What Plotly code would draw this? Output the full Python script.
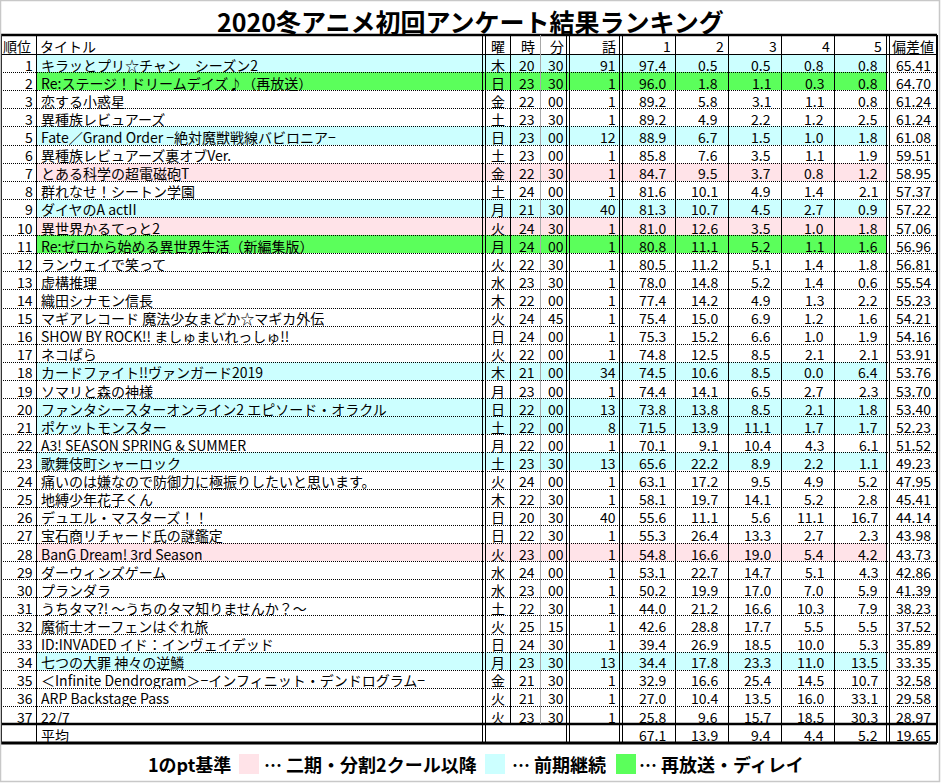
import plotly.graph_objects as go

# ---- data ----
ranks = [1, 2, 3, 3, 5, 6, 7, 8, 9, 10, 11, 12, 13, 14, 15, 16, 17, 18, 19, 20,
         21, 22, 23, 24, 25, 26, 27, 28, 29, 30, 31, 32, 33, 34, 35, 36, 37]
titles = [
    "キラッとプリ☆チャン　シーズン2",
    "Re:ステージ！ドリームデイズ♪（再放送）",
    "恋する小惑星",
    "異種族レビュアーズ",
    "Fate／Grand Order −絶対魔獣戦線バビロニア−",
    "異種族レビュアーズ裏オブVer.",
    "とある科学の超電磁砲T",
    "群れなせ！シートン学園",
    "ダイヤのA actII",
    "異世界かるてっと2",
    "Re:ゼロから始める異世界生活（新編集版）",
    "ランウェイで笑って",
    "虚構推理",
    "織田シナモン信長",
    "マギアレコード 魔法少女まどか☆マギカ外伝",
    "SHOW BY ROCK!! ましゅまいれっしゅ!!",
    "ネコぱら",
    "カードファイト!!ヴァンガード2019",
    "ソマリと森の神様",
    "ファンタシースターオンライン2 エピソード・オラクル",
    "ポケットモンスター",
    "A3! SEASON SPRING & SUMMER",
    "歌舞伎町シャーロック",
    "痛いのは嫌なので防御力に極振りしたいと思います。",
    "地縛少年花子くん",
    "デュエル・マスターズ！！",
    "宝石商リチャード氏の謎鑑定",
    "BanG Dream! 3rd Season",
    "ダーウィンズゲーム",
    "プランダラ",
    "うちタマ?! 〜うちのタマ知りませんか？〜",
    "魔術士オーフェンはぐれ旅",
    "ID:INVADED イド：インヴェイデッド",
    "七つの大罪 神々の逆鱗",
    "＜Infinite Dendrogram＞−インフィニット・デンドログラム−",
    "ARP Backstage Pass",
    "22/7",
]
days = ["木", "日", "金", "土", "日", "土", "金", "土", "月", "火", "月", "火", "水", "木",
        "火", "日", "火", "木", "月", "日", "土", "月", "土", "火", "木", "日", "日", "火",
        "水", "水", "土", "火", "日", "月", "金", "火", "火"]
hours = [20, 23, 22, 23, 23, 23, 22, 24, 21, 24, 24, 22, 23, 22, 24, 24, 22, 21, 23,
         22, 22, 22, 23, 24, 22, 20, 22, 23, 24, 23, 22, 25, 24, 23, 21, 21, 23]
minutes = ["30", "30", "00", "30", "00", "00", "30", "00", "30", "30", "00", "30", "30",
           "00", "45", "00", "00", "00", "00", "00", "00", "00", "30", "00", "30", "30",
           "30", "00", "00", "00", "30", "15", "30", "30", "30", "30", "30"]
episodes = [91, 1, 1, 1, 12, 1, 1, 1, 40, 1, 1, 1, 1, 1, 1, 1, 1, 34, 1, 13, 8, 1, 13,
            1, 1, 40, 1, 1, 1, 1, 1, 1, 1, 13, 1, 1, 1]
pt1 = [97.4, 96.0, 89.2, 89.2, 88.9, 85.8, 84.7, 81.6, 81.3, 81.0, 80.8, 80.5, 78.0,
       77.4, 75.4, 75.3, 74.8, 74.5, 74.4, 73.8, 71.5, 70.1, 65.6, 63.1, 58.1, 55.6,
       55.3, 54.8, 53.1, 50.2, 44.0, 42.6, 39.4, 34.4, 32.9, 27.0, 25.8]
pt2 = [0.5, 1.8, 5.8, 4.9, 6.7, 7.6, 9.5, 10.1, 10.7, 12.6, 11.1, 11.2, 14.8, 14.2,
       15.0, 15.2, 12.5, 10.6, 14.1, 13.8, 13.9, 9.1, 22.2, 17.2, 19.7, 11.1, 26.4,
       16.6, 22.7, 19.9, 21.2, 28.8, 26.9, 17.8, 16.6, 10.4, 9.6]
pt3 = [0.5, 1.1, 3.1, 2.2, 1.5, 3.5, 3.7, 4.9, 4.5, 3.5, 5.2, 5.1, 5.2, 4.9, 6.9, 6.6,
       8.5, 8.5, 6.5, 8.5, 11.1, 10.4, 8.9, 9.5, 14.1, 5.6, 13.3, 19.0, 14.7, 17.0,
       16.6, 17.7, 18.5, 23.3, 25.4, 13.5, 15.7]
pt4 = [0.8, 0.3, 1.1, 1.2, 1.0, 1.1, 0.8, 1.4, 2.7, 1.0, 1.1, 1.4, 1.4, 1.3, 1.2, 1.0,
       2.1, 0.0, 2.7, 2.1, 1.7, 4.3, 2.2, 4.9, 5.2, 11.1, 2.7, 5.4, 5.1, 7.0, 10.3,
       5.5, 10.0, 11.0, 14.5, 16.0, 18.5]
pt5 = [0.8, 0.8, 0.8, 2.5, 1.8, 1.9, 1.2, 2.1, 0.9, 1.8, 1.6, 1.8, 0.6, 2.2, 1.6, 1.9,
       2.1, 6.4, 2.3, 1.8, 1.7, 6.1, 1.1, 5.2, 2.8, 16.7, 2.3, 4.2, 4.3, 5.9, 7.9,
       5.5, 5.3, 13.5, 10.7, 33.1, 30.3]
deviation = [65.41, 64.70, 61.24, 61.24, 61.08, 59.51, 58.95, 57.37, 57.22, 57.06,
             56.96, 56.81, 55.54, 55.23, 54.21, 54.16, 53.91, 53.76, 53.70, 53.40,
             52.23, 51.52, 49.23, 47.95, 45.41, 44.14, 43.98, 43.73, 42.86, 41.39,
             38.23, 37.52, 35.89, 33.35, 32.58, 29.58, 28.97]
# 0: none, 1: 二期・分割2クール以降, 2: 前期継続, 3: 再放送・ディレイ
category = [2, 3, 0, 0, 2, 0, 1, 0, 2, 1, 3, 0, 0, 0, 0, 0, 0, 2, 0, 2, 2, 0, 2, 0,
            0, 0, 0, 1, 0, 0, 0, 0, 0, 2, 0, 0, 0]
avg_pts = [67.1, 13.9, 9.4, 4.4, 5.2]
avg_dev = 19.65

headers = ["順位", "タイトル", "曜", "時", "分", "話", "1", "2", "3", "4", "5", "偏差値"]
legend_labels = ["… 二期・分割2クール以降", "… 前期継続", "… 再放送・ディレイ"]
cat_colors = ["#FFFFFF", "#FFE3E8", "#CCFFFF", "#5BFF5B"]

# ---- geometry ----
W, H = 941, 783
FONT = "Noto Sans CJK JP"
x_left, x_rank, x_title, x_day, x_hour, x_min = 1, 36.5, 482.5, 510.5, 540.5, 566.5
x_ep, x_c = 619.5, [675.5, 728.5, 781.5, 834.5, 886.5]
x_right = 937
y_top, y_head = 35, 54
row_h = 18.11
row_edges = [y_head + i * row_h for i in range(len(ranks) + 1)]
y_avg_bot = 743

fig = go.Figure()

# row background colours
fig.add_trace(go.Heatmap(
    x=[x_rank, x_c[-1]], y=row_edges, z=[[c] for c in category],
    zmin=0, zmax=3, showscale=False, hoverinfo="skip",
    colorscale=[[0, cat_colors[0]], [1/6, cat_colors[0]], [1/6, cat_colors[1]], [0.5, cat_colors[1]],
                [0.5, cat_colors[2]], [5/6, cat_colors[2]], [5/6, cat_colors[3]], [1, cat_colors[3]]],
))

shapes = []


def hline(y, w=1, dash="solid", color="black"):
    shapes.append(dict(type="line", x0=x_left, x1=x_right, y0=y, y1=y,
                       line=dict(color=color, width=w, dash=dash)))


def vline(x, y0=y_top, y1=y_avg_bot, w=1, color="black"):
    shapes.append(dict(type="line", x0=x, x1=x, y0=y0, y1=y1,
                       line=dict(color=color, width=w)))


# horizontal rules
for y in row_edges[1:-1]:
    hline(round(y) + 0.5, 1, "1px,1px")
hline(y_head + 0.5, 1)
hline(y_top, 2.5)
hline(round(row_edges[-1]), 2.5)
hline(y_avg_bot, 3)

# vertical rules
vline(x_left, w=2)
vline(x_right, w=2)
vline(x_rank)
for x in [x_title, x_min, x_ep, x_c[-1]]:
    vline(x)
    vline(x + 3)
vline(x_day, y1=round(row_edges[-1]))
vline(x_hour, y1=round(row_edges[-1]), color="#A8A8A8")
for x in x_c[:-1]:
    vline(x)

# outer frame of the picture
shapes.append(dict(type="rect", x0=0.5, x1=W - 1.5, y0=0.5, y1=H - 1.5,
                   line=dict(color="#C8C8C8", width=1.5)))

annotations = []


def txt(x, y, s, anchor="right", size=14, bold=False, box=16):
    annotations.append(dict(
        x=x, y=y, text=f"<b>{s}</b>" if bold else str(s), showarrow=False,
        xanchor=anchor, yanchor="middle", borderpad=0, height=box,
        font=dict(family=FONT, size=size, color="black")))


# title
txt(W / 2, 21, "2020冬アニメ初回アンケート結果ランキング", "center", 25, True, box=30)

# header row
yh = (y_top + y_head) / 2 + 1
txt(2, yh, headers[0], "left")
txt(39, yh, headers[1], "left")
txt(498, yh, headers[2], "center")
txt(535.5, yh, headers[3])
txt(565, yh, headers[4])
txt(617, yh, headers[5])
for x, h in zip(x_c, headers[6:11]):
    txt(x - 4, yh, h)
txt(913, yh, headers[11], "center")

# body
pt_right = [667, 719, 772, 824.5, 878.5]
for i in range(len(ranks)):
    yc = (row_edges[i] + row_edges[i + 1]) / 2 + 1.5
    txt(34, yc, ranks[i])
    txt(40, yc, titles[i], "left")
    txt(498, yc, days[i], "center")
    txt(535.5, yc, hours[i])
    txt(565, yc, minutes[i])
    txt(617, yc, episodes[i])
    for x, col in zip(pt_right, [pt1, pt2, pt3, pt4, pt5]):
        txt(x, yc, f"{col[i]:.1f}")
    txt(932, yc, f"{deviation[i]:.2f}")

# average row
ya = (row_edges[-1] + y_avg_bot) / 2 + 1.5
txt(40, ya, "平均", "left")
for x, v in zip(pt_right, avg_pts):
    txt(x, ya, f"{v:.1f}")
txt(932, ya, f"{avg_dev:.2f}")

# legend
yl = 764
txt(147, yl, "1のpt基準", "left", 18, True, box=22)
leg_box_x = [239, 485, 616]
leg_text_x = [263, 511, 638]
for bx, tx, lab, col in zip(leg_box_x, leg_text_x, legend_labels, cat_colors[1:]):
    shapes.append(dict(type="rect", x0=bx, x1=bx + 20, y0=754, y1=774,
                       fillcolor=col, line=dict(width=0)))
    txt(tx, yl, lab, "left", 18, True, box=22)

fig.update_layout(
    width=W, height=H, margin=dict(l=0, r=0, t=0, b=0),
    paper_bgcolor="white", plot_bgcolor="white",
    xaxis=dict(range=[0, W], visible=False, fixedrange=True),
    yaxis=dict(range=[H, 0], visible=False, fixedrange=True),
    shapes=shapes, annotations=annotations, showlegend=False,
)

# page margin would push the table off the window edge
fig.write_html("out.html", config={"displayModeBar": False},
               post_script="document.body.style.margin='0';document.body.style.overflow='hidden';")
